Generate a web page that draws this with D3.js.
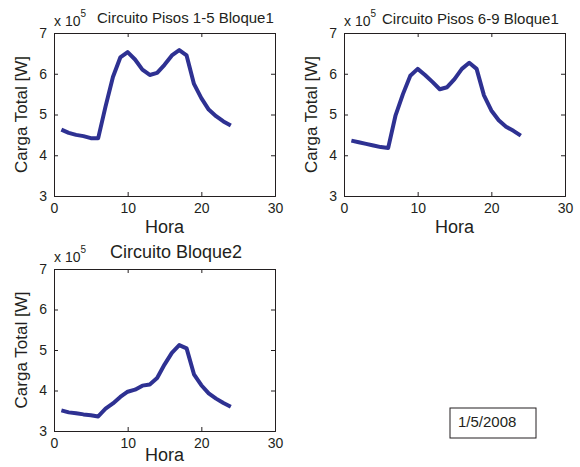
<!DOCTYPE html>
<html><head><meta charset="utf-8">
<script src="https://cdn.jsdelivr.net/npm/d3@7"></script>
<style>body{margin:0;background:#fff}svg{display:block}text{font-family:"Liberation Sans",Arial,sans-serif;fill:#231f20}</style>
</head><body><svg id="c" width="580" height="467"></svg>
<script>
const hours = d3.range(1, 25);
const pisos15 = [4.63,4.55,4.50,4.47,4.42,4.42,5.20,5.92,6.40,6.53,6.35,6.10,5.97,6.02,6.22,6.45,6.58,6.45,5.75,5.40,5.12,4.96,4.83,4.73];
const pisos69 = [4.36,4.32,4.28,4.24,4.20,4.18,4.98,5.50,5.95,6.12,5.97,5.80,5.62,5.67,5.87,6.12,6.27,6.12,5.47,5.10,4.86,4.70,4.60,4.48];
const bloque2 = [3.51,3.46,3.44,3.41,3.39,3.36,3.55,3.68,3.84,3.97,4.02,4.12,4.15,4.31,4.64,4.93,5.12,5.04,4.40,4.13,3.93,3.80,3.69,3.60];
const titles = ["Circuito Pisos 1-5 Bloque1","Circuito Pisos 6-9 Bloque1","Circuito Bloque2"];
const xTicks = [0,10,20,30];
const yTicks = [3,4,5,6,7];
const dateLabel = "1/5/2008";

const svg = d3.select("#c");
const panels = [
  {data:pisos15, title:titles[0], x0:54, x1:275, y0:33, y1:196, tx:97, ty:23, ts:15, ey:26, hy:233},
  {data:pisos69, title:titles[1], x0:344, x1:565, y0:33, y1:196, tx:382, ty:24, ts:15, ey:26, hy:233},
  {data:bloque2, title:titles[2], x0:54, x1:275, y0:269, y1:431, tx:176, ty:258, ts:18, ey:262, hy:461, center:true}
];
panels.forEach(p => {
  const x = d3.scaleLinear().domain([0,30]).range([p.x0,p.x1]);
  const y = d3.scaleLinear().domain([3,7]).range([p.y1,p.y0]);
  const g = svg.append("g");
  const tl = 4;
  const ax = g.append("g").attr("transform",`translate(0,${p.y1})`)
    .call(d3.axisBottom(x).tickValues(xTicks).tickSize(-tl).tickPadding(7).tickFormat(d3.format("d")));
  const ay = g.append("g").attr("transform",`translate(${p.x0},0)`)
    .call(d3.axisLeft(y).tickValues(yTicks).tickSize(-tl).tickPadding(7).tickFormat(d3.format("d")));
  const at = g.append("g").attr("transform",`translate(0,${p.y0})`)
    .call(d3.axisTop(x).tickValues(xTicks).tickSize(-tl).tickFormat(""));
  const ar = g.append("g").attr("transform",`translate(${p.x1},0)`)
    .call(d3.axisRight(y).tickValues(yTicks).tickSize(-tl).tickFormat(""));
  [ax,ay,at,ar].forEach(a=>{
    a.selectAll("path").attr("stroke","#231f20").attr("stroke-width",1);
    a.selectAll("line").attr("stroke","#231f20");
    a.selectAll("text").style("font-size","14px").attr("fill","#231f20");
  });
  g.append("path").datum(p.data)
    .attr("fill","none").attr("stroke","#2e3192").attr("stroke-width",4)
    .attr("stroke-linejoin","round")
    .attr("d", d3.line().x((d,i)=>x(hours[i])).y(d=>y(d)));
  g.append("text").attr("x",(p.x0+p.x1)/2).attr("y",p.hy).attr("text-anchor","middle")
    .style("font-size","18px").text("Hora");
  g.append("text").attr("transform",`translate(${p.x0-27},${(p.y0+p.y1)/2}) rotate(-90)`)
    .attr("text-anchor","middle").style("font-size","17px").text("Carga Total [W]");
  const e = g.append("text").attr("x",p.x0).attr("y",p.ey).style("font-size","14px");
  e.append("tspan").text("x 10");
  e.append("tspan").attr("dy",-9).style("font-size","10px").text("5");
  g.append("text").attr("x",p.tx).attr("y",p.ty)
    .attr("text-anchor",p.center?"middle":"start")
    .style("font-size",p.ts+"px").text(p.title);
});
svg.append("rect").attr("x",450).attr("y",408).attr("width",86).attr("height",30)
  .attr("fill","#fff").attr("stroke","#231f20").attr("stroke-width",1);
svg.append("text").attr("x",458).attr("y",427).style("font-size","15px").text(dateLabel);
</script></body></html>
